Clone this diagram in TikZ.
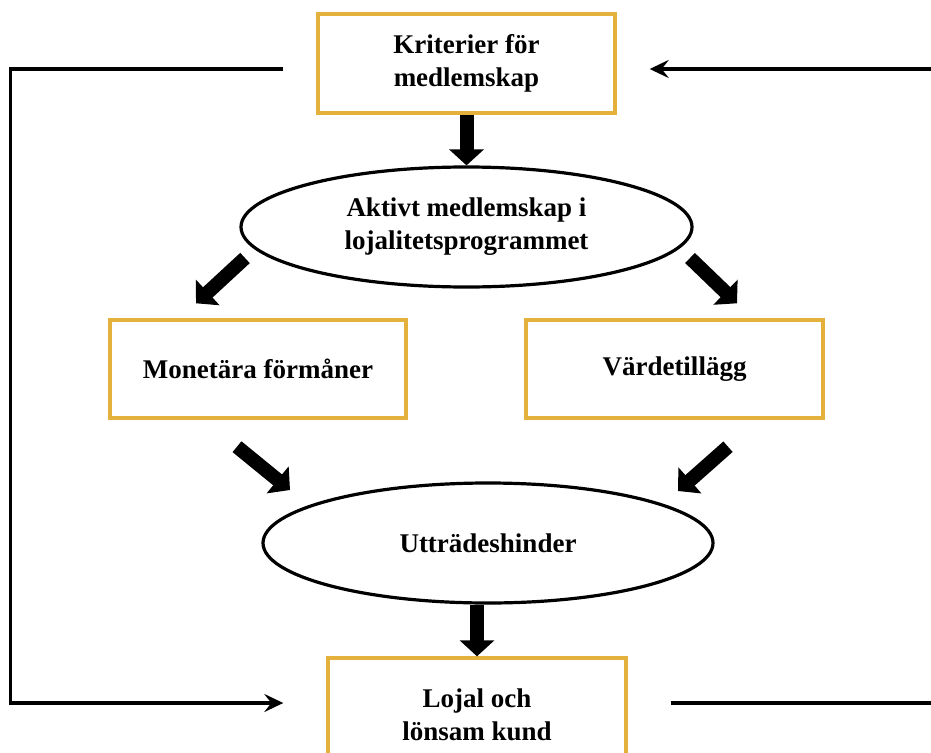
\documentclass[tikz,border=0pt]{standalone}
\usepackage{fontspec}
\setmainfont{Liberation Serif}
\usetikzlibrary{arrows.meta,shapes.geometric}
\definecolor{boxgold}{RGB}{228,178,60}
\tikzset{
  lbl/.style={font=\fontsize{27}{33}\selectfont\bfseries, align=center, text=black},
  gbox/.style={lbl, draw=boxgold, line width=3.4pt, fill=white, inner sep=0pt},
  ell/.style={lbl, ellipse, draw=black, line width=3.2pt, fill=white, inner sep=0pt},
  fat/.style={line width=14pt, draw=black, -{Triangle[length=16pt,width=34pt]}},
  conn/.style={line width=3.6pt, draw=black, -{Stealth[length=19pt,width=18pt,inset=7pt]}}
}
\begin{document}
\begin{tikzpicture}[x=1pt,y=-1pt]
\useasboundingbox (0,0) rectangle (931,752);
\clip (0,0) rectangle (931,752);
\fill[white] (0,0) rectangle (931,752);

\node[gbox, minimum width=297pt, minimum height=99pt] (krit) at (466.5,63.5) {Kriterier för\\medlemskap};
\node[ell, minimum width=451pt, minimum height=120pt] (akt) at (466.5,227) {Aktivt medlemskap i\\lojalitetsprogrammet};
\node[gbox, minimum width=296pt, minimum height=98pt] (mon) at (258,369) {Monetära förmåner};
\node[gbox, minimum width=297pt, minimum height=98pt] (vard) at (674.5,369) {Värdetillägg};
\node[ell, minimum width=450pt, minimum height=120pt] (utt) at (488,543) {Utträdeshinder};
\node[gbox, minimum width=298pt, minimum height=114pt] (loj) at (477,715) {Lojal och\\lönsam kund};

% fat arrows
\draw[fat] (krit.south) -- (akt.north);
\draw[fat] ([shift={(-221.5,31)}]akt.center) -- ([shift={(-62,-15)}]mon.north);
\draw[fat] ([shift={(223.5,31)}]akt.center) -- ([shift={(62.5,-15)}]vard.north);
\draw[fat] ([shift={(-21,27)}]mon.south) -- ([shift={(-198,-53)}]utt.center);
\draw[fat] ([shift={(53.5,27)}]vard.south) -- ([shift={(190,-52)}]utt.center);
\draw[fat] (utt.south -| loj.north) -- (loj.north);

% feedback loops
\draw[conn] ([shift={(-33,5.5)}]krit.west) -- ++(-273,0) |- ([shift={(-43,-12)}]loj.west);
\draw[conn] ([shift={(43,-12)}]loj.east) -- ++(280,0) |- ([shift={(33,5.5)}]krit.east);
\end{tikzpicture}
\end{document}
